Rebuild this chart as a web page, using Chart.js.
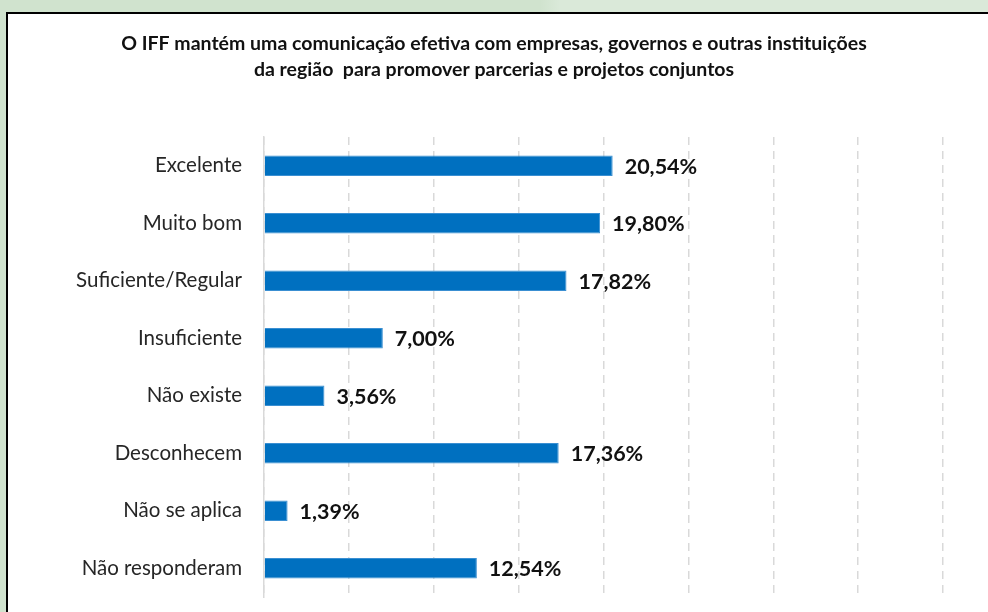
<!doctype html>
<html lang="pt">
  <head>
    <meta charset="utf-8">
    <title>Comunicação IFF</title>
    <style>
      * {
        margin: 0;
        padding: 0;
      }
      body {
        width: 988px;
        height: 612px;
        overflow: hidden;
        position: relative;
        background: linear-gradient(to right, #d0e3ce 0px, #d0e3ce 540px, #dae9d9 560px, #dae9d9 100%);
      }
      .panel {
        position: absolute;
        left: 6px;
        top: 12px;
        width: 1000px;
        height: 700px;
        border: 2px solid #000;
        background: #fff;
      }
      .chartBox {
        position: absolute;
        left: 0;
        top: 0;
        width: 988px;
        height: 612px;
      }
    </style>
  </head>
  <body>
    <div class="panel"></div>
    <div class="chartBox">
      <canvas id="myChart"></canvas>
    </div>
    <script src="https://cdn.jsdelivr.net/npm/chart.js"></script>
    <script>
    // data
    const categories = ['Excelente', 'Muito bom', 'Suficiente/Regular', 'Insuficiente', 'Não existe', 'Desconhecem', 'Não se aplica', 'Não responderam'];
    const percentages = [20.54, 19.80, 17.82, 7.00, 3.56, 17.36, 1.39, 12.54];
    const titleLines = [
      'O IFF mantém uma comunicação efetiva com empresas, governos e outras instituições',
      'da região  para promover parcerias e projetos conjuntos'
    ];

    const FONT = 'Lato, "Open Sans", sans-serif';

    // value labels at the end of each bar
    const valueLabels = {
      id: 'valueLabels',
      afterDatasetsDraw(chart) {
        const ctx = chart.ctx;
        const meta = chart.getDatasetMeta(0);
        ctx.save();
        ctx.font = 'bold 21.5px ' + FONT;
        ctx.fillStyle = '#111';
        ctx.textAlign = 'left';
        ctx.textBaseline = 'middle';
        meta.data.forEach((bar, i) => {
          const txt = percentages[i].toFixed(2).replace('.', ',') + '%';
          ctx.fillText(txt, bar.x + 12, bar.y + 1);
        });
        ctx.restore();
      }
    };

    const data = {
      labels: categories,
      datasets: [{
        data: percentages,
        backgroundColor: '#0070c0',
        borderColor: '#3a8fd2',
        borderWidth: 1,
        borderSkipped: 'left',
        categoryPercentage: 1,
        barPercentage: 0.36
      }]
    };

    const config = {
      type: 'bar',
      data,
      plugins: [valueLabels],
      options: {
        indexAxis: 'y',
        responsive: false,
        animation: false,
        layout: {
          padding: { left: 45, right: 45, top: 31, bottom: 15 }
        },
        plugins: {
          legend: { display: false },
          tooltip: { enabled: false },
          title: {
            display: true,
            text: titleLines,
            color: '#111',
            font: { family: FONT, size: 19.5, weight: 'bold', lineHeight: '26px' },
            padding: { top: 0, bottom: 54 }
          }
        },
        scales: {
          x: {
            min: 0,
            max: 40,
            afterFit(axis) { axis.height = 0; },
            ticks: { display: false, stepSize: 5 },
            grid: { color: '#d9d9d9', lineWidth: 1.5, drawTicks: false },
            border: { display: false, dash: [8, 6] }
          },
          y: {
            afterFit(axis) {
              axis.width = 219;
              axis.paddingTop = 0;
              axis.paddingBottom = 0;
            },
            ticks: {
              color: '#262626',
              padding: 22,
              font: { family: FONT, size: 20.5 }
            },
            grid: { display: false, drawTicks: false },
            border: { display: true, color: '#d9d9d9', width: 1.5 }
          }
        }
      }
    };

    const canvas = document.getElementById('myChart');
    canvas.width = 988;
    canvas.height = 612;
    const myChart = new Chart(canvas, config);
    </script>
  </body>
</html>
